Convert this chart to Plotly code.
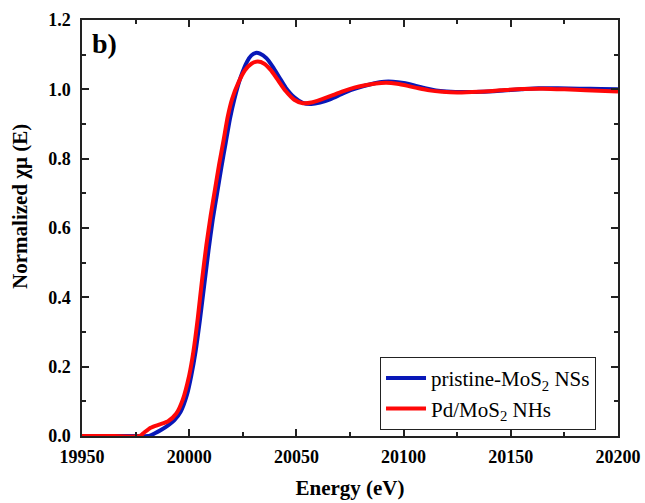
import plotly.graph_objects as go

energy_pristine = [19950, 19965, 19975, 19981, 19984, 19987, 19990, 19993, 19996, 19999,
                   20001, 20003, 20005, 20007, 20009, 20011, 20013, 20015, 20017, 20019,
                   20021, 20024, 20027, 20029, 20031, 20033, 20036, 20039, 20042, 20045,
                   20049, 20053, 20057, 20061, 20066, 20071, 20076, 20081, 20086, 20091,
                   20095, 20100, 20105, 20110, 20115, 20120, 20128, 20136, 20145, 20155,
                   20163, 20172, 20182, 20192, 20200]
mu_pristine = [0.0, 0.0, 0.0, 0.0, 0.008, 0.018, 0.03, 0.045, 0.07, 0.12,
               0.175, 0.245, 0.335, 0.435, 0.535, 0.625, 0.70, 0.775, 0.845, 0.915,
               0.97, 1.035, 1.08, 1.098, 1.105, 1.103, 1.09, 1.065, 1.035, 1.005,
               0.977, 0.961, 0.958, 0.962, 0.972, 0.986, 0.999, 1.009, 1.017, 1.022,
               1.022, 1.018, 1.011, 1.003, 0.997, 0.994, 0.992, 0.993, 0.996, 1.0,
               1.003, 1.003, 1.002, 1.001, 1.0]

energy_pd = [19950, 19965, 19977, 19979, 19982, 19986, 19990, 19994, 19997, 20000,
             20002, 20004, 20006, 20008, 20010, 20012, 20014, 20016, 20018, 20020,
             20023, 20026, 20029, 20032, 20035, 20038, 20041, 20045, 20049, 20053,
             20057, 20062, 20067, 20072, 20077, 20082, 20087, 20092, 20097, 20102,
             20107, 20112, 20118, 20125, 20135, 20145, 20155, 20165, 20175, 20185,
             20200]
mu_pd = [0.0, 0.0, 0.0, 0.01, 0.024, 0.033, 0.042, 0.065, 0.105, 0.175,
         0.245, 0.34, 0.45, 0.55, 0.635, 0.71, 0.785, 0.852, 0.922, 0.972,
         1.02, 1.055, 1.074, 1.08, 1.074, 1.056, 1.03, 0.995, 0.97, 0.96,
         0.962, 0.972, 0.983, 0.995, 1.005, 1.012, 1.017, 1.019, 1.016, 1.01,
         1.003, 0.997, 0.993, 0.991, 0.993, 0.997, 1.001, 1.002, 1.0, 0.997,
         0.994]

series_names = ["pristine-MoS<sub>2</sub> NSs", "Pd/MoS<sub>2</sub> NHs"]
series_colors = ["#0818b8", "#ff0808"]

x_ticks = [19950, 20000, 20050, 20100, 20150, 20200]
y_ticks = [0.0, 0.2, 0.4, 0.6, 0.8, 1.0, 1.2]

fig = go.Figure()
fig.add_trace(go.Scatter(x=energy_pristine, y=mu_pristine, mode="lines",
                         name=series_names[0],
                         line=dict(color=series_colors[0], width=4, shape="spline", smoothing=0.6)))
fig.add_trace(go.Scatter(x=energy_pd, y=mu_pd, mode="lines",
                         name=series_names[1],
                         line=dict(color=series_colors[1], width=4, shape="spline", smoothing=0.6)))

font_family = "Liberation Serif"
axis_common = dict(showline=True, linecolor="#222222", linewidth=1.5, mirror="ticks",
                   ticks="inside", ticklen=7, tickwidth=1.5, tickcolor="#222222",
                   showgrid=False, zeroline=False, automargin=False,
                   tickfont=dict(family=font_family, size=18, color="black", weight="bold"))

fig.update_xaxes(range=[19950, 20200], tickvals=x_ticks,
                 ticktext=[str(v) for v in x_ticks],
                 ticklabelstandoff=4,
                 minor=dict(dtick=25, ticks="inside", ticklen=4, tickwidth=1.5, tickcolor="#222222"),
                 title=dict(text="<b>Energy (eV)</b>", font=dict(family=font_family, size=21, color="black"),
                            standoff=14),
                 **axis_common)
fig.update_yaxes(range=[0, 1.2], tickvals=y_ticks,
                 ticktext=[f"{v:.1f}" for v in y_ticks],
                 ticklabelstandoff=6,
                 minor=dict(dtick=0.1, ticks="inside", ticklen=4, tickwidth=1.5, tickcolor="#222222"),
                 **axis_common)

fig.add_annotation(text="<b>Normalized χμ (E)</b>", xref="paper", yref="paper",
                   x=-0.1157, y=0.553, xanchor="center", yanchor="middle", textangle=-90,
                   showarrow=False, font=dict(family=font_family, size=21, color="black"))

fig.add_annotation(text="<b>b)</b>", xref="paper", yref="paper", x=0.014, y=0.985,
                   xanchor="left", yanchor="top", showarrow=False,
                   font=dict(family=font_family, size=28, color="black"))

fig.update_layout(
    width=645, height=503,
    margin=dict(l=82, r=27, t=20, b=67),
    paper_bgcolor="white", plot_bgcolor="white",
    legend=dict(x=0.556, y=0.19, xanchor="left", yanchor="top",
                bordercolor="#222222", borderwidth=1, bgcolor="white",
                font=dict(family=font_family, size=21, color="black"),
                tracegroupgap=0, itemwidth=40),
    showlegend=True,
)

fig.write_html("out.html")
